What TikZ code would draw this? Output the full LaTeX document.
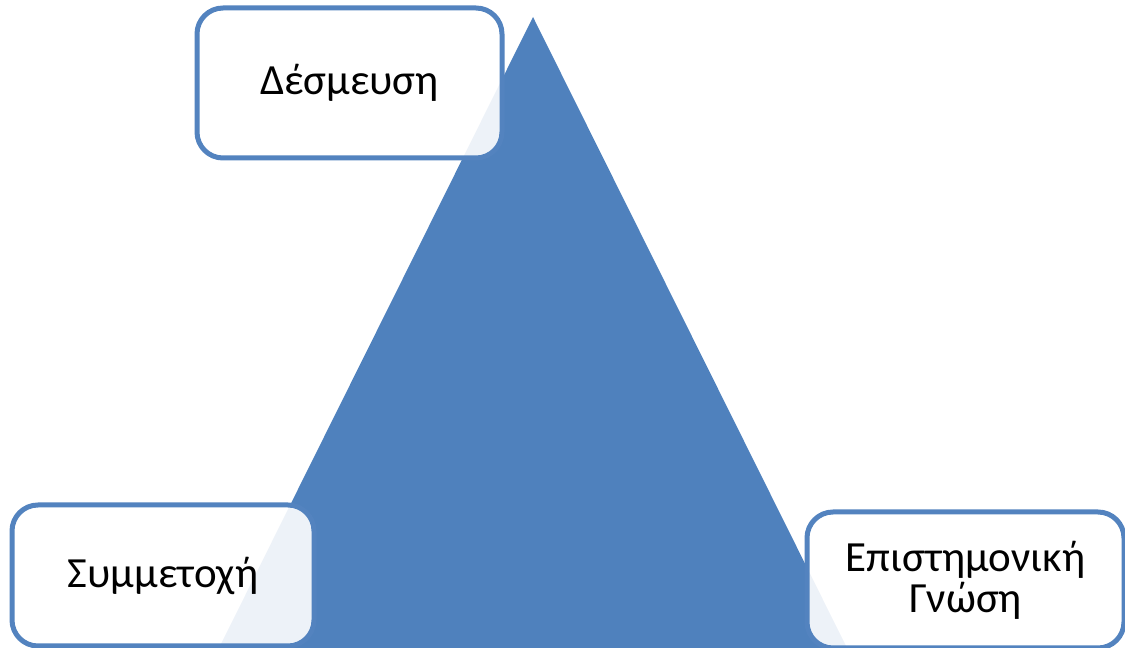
\documentclass[tikz,border=0pt]{standalone}
\usepackage{fontspec}
\setmainfont{Carlito}
\definecolor{tblue}{HTML}{4F81BD}
\definecolor{bblue}{HTML}{5383BF}
\tikzset{
  box/.style={draw=bblue, line width=5pt, rounded corners=26pt, fill=white, fill opacity=0.9, text opacity=1,
    align=center, inner sep=0pt, font=\fontsize{43}{41}\selectfont},
}
\begin{document}
\begin{tikzpicture}[x=1pt,y=1pt]
\useasboundingbox (0,0) rectangle (1125,648);
\fill[tblue] (533,631) -- (847,0) -- (219,0) -- cycle;
\node[box, minimum width=305pt, minimum height=150pt] (d) at (349.5,565) {Δέσμευση};
\node[box, minimum width=302pt, minimum height=141pt] (s) at (163,72.5) {Συμμετοχή};
\node[box, minimum width=317pt, minimum height=136pt] (e) at (965.5,68) {Επιστημονική\\Γνώση};
\end{tikzpicture}
\end{document}
